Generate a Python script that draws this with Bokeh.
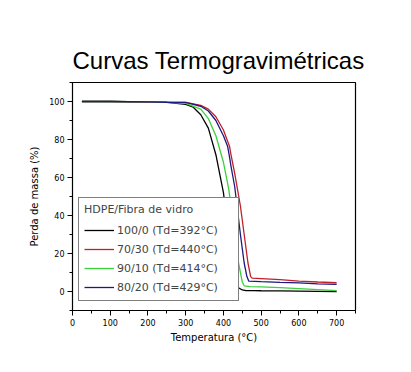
from bokeh.plotting import figure
from bokeh.models import Legend, LegendItem, SingleIntervalTicker, Range1d
from bokeh.embed import file_html
from bokeh.resources import INLINE

# Data
temp_black = [25, 100, 200, 250, 300, 320, 340, 360, 380, 400, 410, 420, 430, 440, 450, 460, 480, 500, 550, 600, 650, 700]
mass_black = [100, 100, 99.8, 99.5, 98.5, 97, 93, 86, 72, 52, 36, 18, 7, 2, 0.8, 0.5, 0.5, 0.4, 0.3, 0.2, 0.1, 0.0]

temp_red = [25, 100, 200, 250, 300, 340, 360, 380, 400, 416, 420, 430, 445, 455, 465, 472, 476, 500, 550, 600, 650, 700]
mass_red = [100, 100, 99.6, 99.5, 99.5, 98, 96, 92, 85, 76.5, 72, 62, 45, 30, 15, 8, 7, 6.8, 6.2, 5.5, 5.0, 4.6]

temp_green = [25, 100, 200, 250, 300, 340, 360, 380, 400, 414, 420, 430, 440, 450, 455, 470, 500, 550, 600, 650, 700]
mass_green = [100, 100, 99.8, 99.6, 99, 96, 91, 82, 68, 54, 45, 30, 15, 5, 3, 2.6, 2.4, 2.0, 1.5, 1.0, 0.5]

temp_blue = [25, 100, 200, 250, 300, 340, 360, 380, 400, 411, 416, 420, 430, 436, 445, 455, 462, 467, 500, 550, 600, 650, 700]
mass_blue = [100, 100, 99.8, 99.6, 99.5, 97.5, 95, 90, 82, 76.5, 71, 66, 55, 45, 30, 15, 8, 5.5, 5.2, 4.8, 4.5, 4.0, 3.7]

labels = ["100/0 (Td=392°C)", "70/30 (Td=440°C)", "90/10 (Td=414°C)", "80/20 (Td=429°C)"]
colors = ["#000000", "#c0202a", "#3cd03c", "#1a1a80"]

p = figure(width=395, height=356, output_backend="svg", toolbar_location=None,
           x_range=Range1d(0, 750), y_range=Range1d(-10, 110),
           min_border_left=72, min_border_right=40, min_border_bottom=46, min_border_top=82)

p.title.text = "Curvas Termogravimétricas"
p.title.text_font = "Liberation Sans"
p.title.text_font_size = "24px"
p.title.text_font_style = "normal"
p.title.text_color = "black"
p.title.align = "left"
p.title.standoff = 17

series = [(temp_black, mass_black), (temp_red, mass_red), (temp_green, mass_green), (temp_blue, mass_blue)]
renderers = []
for (t, m), c in zip(series, colors):
    r = p.line(t, m, line_color=c, line_width=1.3)
    renderers.append(r)

p.xgrid.visible = False
p.ygrid.visible = False
p.outline_line_color = "black"
p.outline_line_width = 1.2

p.xaxis.ticker = SingleIntervalTicker(interval=100, num_minor_ticks=2)
p.yaxis.ticker = SingleIntervalTicker(interval=20, num_minor_ticks=2)
for ax in (p.xaxis[0], p.yaxis[0]):
    ax.axis_line_color = "black"
    ax.major_tick_line_color = "black"
    ax.minor_tick_line_color = "black"
    ax.major_tick_out = 5
    ax.major_tick_in = 0
    ax.minor_tick_out = 3
    ax.minor_tick_in = 0
    ax.major_label_text_font = "DejaVu Sans"
    ax.major_label_text_font_size = "8px"
    ax.major_label_text_color = "black"
    ax.major_label_standoff = 3
    ax.axis_label_text_font = "DejaVu Sans"
    ax.axis_label_text_font_size = "10px"
    ax.axis_label_text_font_style = "normal"
    ax.axis_label_text_color = "black"

p.xaxis.axis_label = "Temperatura (°C)"
p.yaxis.axis_label = "Perda de massa (%)"
p.yaxis.major_label_orientation = "horizontal"
p.xaxis.axis_label_standoff = 3
p.yaxis.axis_label_standoff = 6

legend = Legend(items=[LegendItem(label=l, renderers=[r]) for l, r in zip(labels, renderers)],
                location=(6, 9))
legend.title = "HDPE/Fibra de vidro"
legend.title_text_font = "DejaVu Sans"
legend.title_text_font_size = "11px"
legend.title_text_font_style = "normal"
legend.title_standoff = 6
legend.label_text_font = "DejaVu Sans"
legend.label_text_font_size = "11px"
legend.glyph_width = 30
legend.glyph_height = 16
legend.label_standoff = 3
legend.label_height = 16
legend.label_width = 116
legend.spacing = 3
legend.padding = 5
legend.margin = 0
legend.border_line_color = "black"
legend.border_line_width = 1.2
legend.background_fill_alpha = 1
p.add_layout(legend, "center")

open("out.html", "w").write(file_html(p, INLINE))
